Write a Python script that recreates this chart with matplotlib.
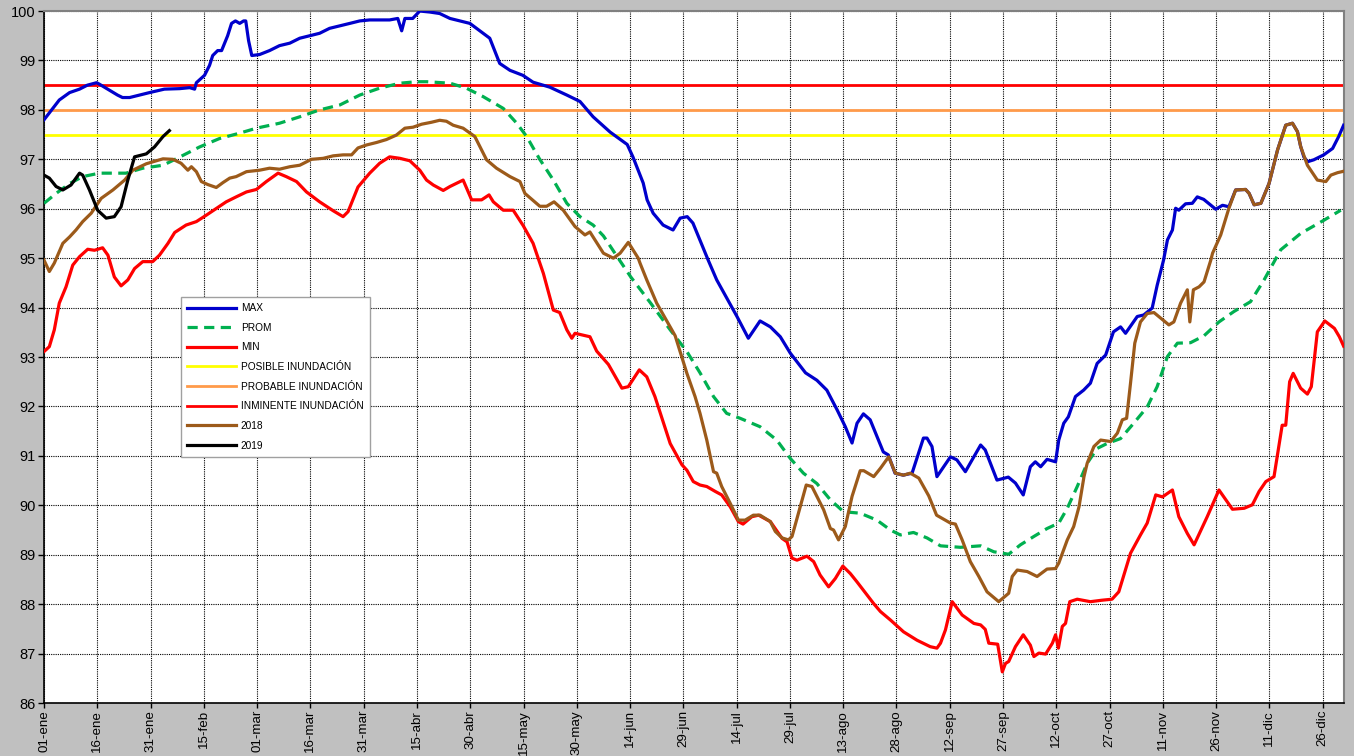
import matplotlib
matplotlib.use("Agg")
import matplotlib.pyplot as plt

plt.rcParams['font.family'] = ['Liberation Sans', 'DejaVu Sans']

# dias desde el 01-ene y nivel (m)
max_dias = [0, 4.3, 7.2, 10, 12.2, 14.8, 15.6, 18.4, 20.7, 22.1, 24.1, 26.9, 29.7, 33.9, 38.2, 41, 42.4, 42.9,
            45.2, 46.6, 47.5, 48.9, 50, 51.7, 52.8, 53.9, 55.1, 56.2, 56.8, 57.6, 58.5, 60.7, 63.5, 66.3,
            69.2, 72, 74.8, 77.6, 80.4, 83.3, 86.1, 88.9, 91.7, 97.3, 99.6, 100.7, 101.6, 103.8, 105.8,
            108.6, 111.4, 114.3, 117.1, 119.9, 122.7, 125.5, 128.3, 131.2, 134.8, 137.7, 142.4, 147.2,
            150.9, 154.6, 159.4, 164.2, 165.8, 168.7, 169.8, 171.5, 174.3, 177.1, 179.1, 181.1, 182.7,
            187, 189.4, 195.1, 198.3, 201.6, 204.5, 207.3, 210.1, 214.4, 217.6, 220.4, 223.3, 225.6,
            227.5, 228.9, 230.7, 232.6, 236.3, 237.7, 239.6, 241.9, 244.4, 247.6, 248.6, 250, 251.4,
            255.2, 257, 259.4, 263.7, 265, 268.3, 271.5, 273.5, 275.7, 277.7, 279.1, 280.6, 282.4,
            284.8, 285.7, 287.1, 288.4, 290.4, 292.7, 294.6, 296.5, 298.9, 301.1, 303.1, 304.5, 307.8,
            309.6, 312, 313.4, 315.2, 316.3, 317.7, 318.6, 319.5, 321.4, 323.3, 324.7, 326.5, 329.9,
            331.8, 333.6, 335.5, 338.3, 339.3, 340.7, 342.6, 344.9, 347.3, 349.6, 351.5, 352.9, 353.8,
            354.7, 355.7, 357.5, 360.3, 362.8, 364.5, 365.9]
max_vals = [97.8, 98.2, 98.35, 98.42, 98.5, 98.55, 98.52, 98.4, 98.3, 98.25, 98.25, 98.3, 98.35, 98.42, 98.43,
            98.45, 98.42, 98.55, 98.7, 98.9, 99.1, 99.2, 99.2, 99.5, 99.75, 99.8, 99.75, 99.8, 99.8, 99.4,
            99.1, 99.12, 99.2, 99.3, 99.35, 99.45, 99.5, 99.55, 99.65, 99.7, 99.75, 99.8, 99.82, 99.82,
            99.85, 99.6, 99.85, 99.85, 100.0, 99.98, 99.95, 99.85, 99.8, 99.75, 99.6, 99.45, 98.94, 98.8,
            98.7, 98.56, 98.46, 98.3, 98.17, 97.86, 97.55, 97.3, 97.05, 96.52, 96.18, 95.91, 95.67, 95.57,
            95.81, 95.84, 95.71, 94.96, 94.56, 93.82, 93.38, 93.73, 93.61, 93.41, 93.08, 92.68, 92.53,
            92.33, 91.93, 91.59, 91.26, 91.66, 91.85, 91.73, 91.08, 91.02, 90.65, 90.61, 90.65, 91.36,
            91.36, 91.19, 90.58, 90.98, 90.92, 90.68, 91.22, 91.12, 90.51, 90.57, 90.45, 90.21, 90.78,
            90.88, 90.78, 90.93, 90.88, 91.32, 91.66, 91.79, 92.2, 92.33, 92.47, 92.87, 93.04, 93.51,
            93.61, 93.48, 93.82, 93.85, 93.99, 94.45, 94.96, 95.37, 95.57, 96.01, 95.97, 96.1, 96.11,
            96.24, 96.19, 95.99, 96.07, 96.04, 96.38, 96.39, 96.31, 96.08, 96.11, 96.51, 97.19, 97.69,
            97.73, 97.56, 97.26, 97.05, 96.95, 96.99, 97.09, 97.22, 97.46, 97.69]

prom_dias = [0, 3.4, 7.2, 10.9, 15.6, 23.1, 27.8, 33.5, 37.2, 43.8, 49.4, 55.1, 59.8, 66.3, 72, 77.6, 83.3,
             88.9, 94.5, 100.2, 104.9, 107.7, 114.3, 118.9, 123.6, 129.3, 133.1, 135.9, 139.4, 143.4,
             147.2, 150.9, 154.6, 157.5, 161.2, 165.2, 170.8, 176.3, 181, 184.7, 188.5, 192.2, 196,
             201.6, 206.3, 210.1, 213.8, 217.6, 221.4, 225.1, 229.8, 234.5, 238.3, 241.1, 244.8, 248.6,
             252.4, 258, 263.7, 267.4, 271.6, 274.9, 278.7, 282.4, 285.7, 288.1, 290.9, 293.7, 296.5,
             299.3, 303.1, 306.8, 310.6, 313.4, 316.3, 319.1, 322.8, 326.6, 330.8, 335, 339.7, 343.5,
             348.2, 353.8, 360.4, 365.1]
prom_vals = [96.11, 96.31, 96.51, 96.65, 96.72, 96.72, 96.82, 96.88, 97.01, 97.25, 97.42, 97.53, 97.63,
             97.73, 97.86, 98.0, 98.1, 98.3, 98.44, 98.54, 98.57, 98.57, 98.54, 98.44, 98.27, 98.03,
             97.73, 97.46, 97.02, 96.58, 96.11, 95.84, 95.67, 95.45, 95.05, 94.62, 94.09, 93.55, 93.11,
             92.68, 92.2, 91.86, 91.76, 91.59, 91.32, 90.95, 90.65, 90.44, 90.11, 89.87, 89.84, 89.7,
             89.5, 89.4, 89.45, 89.34, 89.18, 89.15, 89.18, 89.06, 89.01, 89.2, 89.37, 89.53, 89.64,
             89.94, 90.38, 90.85, 91.15, 91.25, 91.35, 91.66, 91.99, 92.4, 93.01, 93.28, 93.29, 93.43,
             93.71, 93.92, 94.12, 94.56, 95.17, 95.5, 95.77, 95.97]

min_dias = [0, 1.5, 2.9, 4.3, 6.2, 8.1, 10, 12.3, 14.2, 16.5, 18, 19.8, 21.7, 23.6, 25.5, 27.8, 30.6, 32.5,
            34.9, 36.8, 40, 42.9, 45.7, 49, 51.3, 54.1, 57, 59.8, 62.6, 65.9, 68.2, 71.1, 73.9, 77.6,
            81.4, 84.2, 85.6, 88.4, 91.7, 94.5, 97.3, 100.2, 103, 105.8, 107.7, 109.6, 112.4, 114.3,
            118, 120.4, 123.2, 125.3, 126.5, 129.3, 132.1, 134.9, 137.7, 140.6, 143.4, 145.2, 147.2,
            148.6, 149.5, 153.7, 155.6, 158.9, 162.7, 164.5, 167.6, 169.7, 172, 176.3, 179.6, 181,
            182.8, 184.7, 186.6, 189, 190.8, 193.2, 195.5, 196.8, 199.3, 201.2, 204.5, 207.8, 209.2,
            210.6, 212, 214.8, 216.7, 218.5, 220.9, 222.8, 224.9, 227, 228.9, 233.6, 235.5, 238.3, 242,
            245.8, 249.5, 251.4, 252.4, 253.8, 255.7, 258.5, 261.8, 263.7, 265, 266, 268.5, 269.8,
            270.7, 271.6, 273.5, 275.7, 277.7, 278.7, 280.1, 282, 283.9, 284.8, 285.6, 286.7, 287.6,
            288.8, 290.9, 294.6, 297.9, 300.7, 302.6, 305.9, 308.7, 310.6, 313, 314.9, 317.7, 319.5,
            321.9, 323.8, 327.5, 330.8, 334.6, 337.9, 340.2, 342.1, 344, 346.3, 348.6, 349.6, 350.7,
            351.7, 353.8, 355.7, 356.8, 358.5, 360.6, 363.3, 364.7, 365.9]
min_vals = [93.11, 93.21, 93.55, 94.09, 94.42, 94.86, 95.03, 95.18, 95.16, 95.21, 95.06, 94.62, 94.44,
            94.56, 94.79, 94.93, 94.93, 95.06, 95.3, 95.52, 95.67, 95.74, 95.87, 96.03, 96.14, 96.24,
            96.34, 96.39, 96.55, 96.72, 96.65, 96.55, 96.34, 96.14, 95.96, 95.84, 95.94, 96.44, 96.72,
            96.92, 97.05, 97.02, 96.97, 96.78, 96.58, 96.48, 96.37, 96.45, 96.58, 96.18, 96.18, 96.28,
            96.14, 95.97, 95.97, 95.66, 95.3, 94.69, 93.95, 93.9, 93.55, 93.38, 93.48, 93.41, 93.12,
            92.85, 92.37, 92.4, 92.74, 92.6, 92.2, 91.25, 90.82, 90.71, 90.48, 90.41, 90.38, 90.28,
            90.21, 89.97, 89.67, 89.62, 89.77, 89.8, 89.67, 89.33, 89.26, 88.93, 88.89, 88.97, 88.86,
            88.59, 88.35, 88.52, 88.77, 88.62, 88.45, 88.01, 87.85, 87.68, 87.44, 87.27, 87.14, 87.11,
            87.21, 87.48, 88.05, 87.78, 87.61, 87.58, 87.49, 87.21, 87.19, 86.63, 86.8, 86.84, 87.14,
            87.38, 87.17, 86.94, 87.01, 86.99, 87.21, 87.38, 87.11, 87.55, 87.61, 88.05, 88.1, 88.05,
            88.08, 88.1, 88.25, 89.03, 89.4, 89.64, 90.21, 90.17, 90.31, 89.77, 89.43, 89.2, 89.77,
            90.31, 89.92, 89.94, 90.01, 90.28, 90.48, 90.58, 91.62, 91.62, 92.5, 92.67, 92.37, 92.25,
            92.4, 93.51, 93.73, 93.58, 93.41, 93.22]

a2018_dias = [0, 1.5, 2.9, 5.3, 7.2, 9, 10.9, 13.3, 16.1, 19.4, 22.7, 25, 28.8, 33.5, 36.3, 38.6, 40.5,
              41.5, 42.9, 44.3, 46.1, 48.5, 50.4, 52.3, 54.1, 57, 60.7, 63.5, 66.3, 69.2, 72, 75.3,
              78.6, 81.4, 84.2, 86.6, 88.4, 90.8, 93.6, 96.4, 99.2, 101.6, 103.9, 106.3, 109.1, 111.4,
              113.3, 115.2, 118, 121.3, 124.6, 127.4, 131.2, 134, 135.4, 139.6, 141.5, 143.6, 146.2,
              149.5, 152.3, 153.7, 157.5, 160.3, 162.2, 164.5, 167.3, 167.8, 169.7, 172.5, 177.7, 181,
              183.3, 184.7, 186.6, 188.5, 189.4, 190.8, 193.2, 195.5, 197.4, 199.7, 201.6, 204.5,
              205.9, 207.8, 209.6, 210.6, 212.4, 214.6, 216.2, 219.5, 221.4, 222.3, 223.7, 225.6,
              227.5, 229.8, 230.8, 233.6, 235.5, 237.8, 239.7, 242, 243.9, 246.3, 249.1, 251.3, 255.2,
              256.6, 258.5, 260.8, 263.2, 265.5, 268.8, 271.6, 272.6, 274, 276.8, 279.6, 282.4, 284.8,
              285.7, 288.1, 289.9, 291.4, 292.8, 293.7, 295.6, 297.5, 300.3, 302.2, 303.6, 304.8,
              305.9, 307.1, 308.7, 310.6, 312.5, 316.7, 318.1, 320, 321.9, 322.6, 323.6, 325.2, 326.6,
              328.5, 329, 331.3, 333.6, 335.5, 338.3, 339.3, 340.7, 342.6, 344.9, 347.3, 349.6, 351.5,
              352.9, 353.8, 355.7, 358.5, 360.9, 362.3, 364.2, 366]
a2018_vals = [94.96, 94.73, 94.9, 95.3, 95.43, 95.57, 95.74, 95.91, 96.21, 96.38, 96.58, 96.78, 96.91,
              97.01, 97.0, 96.92, 96.78, 96.85, 96.75, 96.55, 96.49, 96.43, 96.53, 96.62, 96.65, 96.75,
              96.78, 96.82, 96.8, 96.85, 96.88, 97.0, 97.02, 97.07, 97.09, 97.09, 97.23, 97.29, 97.34,
              97.4, 97.49, 97.63, 97.65, 97.71, 97.75, 97.79, 97.77, 97.69, 97.63, 97.46, 96.99, 96.82,
              96.65, 96.55, 96.31, 96.05, 96.05, 96.14, 95.97, 95.64, 95.47, 95.53, 95.1, 95.0, 95.1,
              95.32, 95.0, 94.9, 94.56, 94.09, 93.43, 92.67, 92.2, 91.86, 91.32, 90.68, 90.65, 90.38,
              90.04, 89.7, 89.7, 89.8, 89.8, 89.67, 89.47, 89.34, 89.3, 89.37, 89.84, 90.41, 90.38,
              89.91, 89.53, 89.5, 89.3, 89.57, 90.18, 90.7, 90.7, 90.58, 90.75, 90.98, 90.65, 90.61,
              90.65, 90.55, 90.19, 89.8, 89.64, 89.62, 89.3, 88.86, 88.56, 88.25, 88.05, 88.22, 88.56,
              88.69, 88.66, 88.56, 88.71, 88.72, 88.83, 89.3, 89.57, 89.97, 90.58, 90.85, 91.19, 91.32,
              91.29, 91.46, 91.73, 91.76, 92.47, 93.28, 93.71, 93.88, 93.9, 93.65, 93.71, 94.09, 94.36,
              93.71, 94.36, 94.42, 94.52, 94.96, 95.1, 95.47, 96.01, 96.38, 96.39, 96.31, 96.08, 96.11,
              96.51, 97.19, 97.69, 97.73, 97.56, 97.26, 96.88, 96.58, 96.55, 96.68, 96.73, 96.76]

a2019_dias = [0, 1.5, 3.4, 5.3, 7.6, 10, 10.9, 12.8, 15.1, 17.5, 19.8, 21.7, 23.6, 25.5, 28.8, 31.1,
              33.5, 35.3]
a2019_vals = [96.68, 96.62, 96.45, 96.38, 96.48, 96.72, 96.68, 96.38, 95.97, 95.81, 95.84, 96.04, 96.58,
              97.05, 97.11, 97.25, 97.46, 97.58]

posible = 97.5
probable = 98.0
inminente = 98.5

tick_dias = list(range(0, 361, 15))
tick_labels = ["01-ene", "16-ene", "31-ene", "15-feb", "01-mar", "16-mar", "31-mar", "15-abr",
               "30-abr", "15-may", "30-may", "14-jun", "29-jun", "14-jul", "29-jul", "13-ago",
               "28-ago", "12-sep", "27-sep", "12-oct", "27-oct", "11-nov", "26-nov", "11-dic", "26-dic"]

fig = plt.figure(figsize=(13.54, 7.56), dpi=100, facecolor="#c0c0c0")
ax = fig.add_axes([0.0325, 0.0701, 0.9601, 0.9153])
ax.set_facecolor("white")

lw = 2.3
ax.plot(max_dias, max_vals, color="#0000cc", lw=lw, label="MAX", zorder=3)
ax.plot(prom_dias, prom_vals, color="#00b050", lw=lw, ls=(0, (3.2, 2.0)), label="PROM", zorder=3)
ax.plot(min_dias, min_vals, color="#ff0000", lw=lw, label="MIN", zorder=3)
ax.axhline(posible, color="#ffff00", lw=2.0, label="POSIBLE INUNDACIÓN", zorder=2)
ax.axhline(probable, color="#ff9a4a", lw=2.0, label="PROBABLE INUNDACIÓN", zorder=2)
ax.axhline(inminente, color="#ff0000", lw=2.0, label="INMINENTE INUNDACIÓN", zorder=2)
ax.plot(a2018_dias, a2018_vals, color="#9c5a1a", lw=lw, label="2018", zorder=4)
ax.plot(a2019_dias, a2019_vals, color="black", lw=lw, label="2019", zorder=5)

ax.set_xlim(0, 366)
ax.set_ylim(86, 100)
ax.set_yticks(range(86, 101))
ax.set_xticks(tick_dias)
ax.set_xticklabels(tick_labels, rotation=90, fontsize=9.6)
ax.tick_params(axis="y", labelsize=10.5, length=4, width=1, pad=2)
ax.tick_params(axis="x", length=3.5, width=1, pad=1.5)
ax.grid(True, color="black", ls=(0, (1, 1)), lw=0.8, zorder=1)

for s in ["top", "right"]:
    ax.spines[s].set_color("#808080")
    ax.spines[s].set_linewidth(1.5)
for s in ["left", "bottom"]:
    ax.spines[s].set_color("black")
    ax.spines[s].set_linewidth(1.2)

leg = ax.legend(loc="upper left", bbox_to_anchor=(0.1015, 0.594), fontsize=7.3, frameon=True,
                fancybox=False, edgecolor="#a0a0a0", framealpha=1, handlelength=4.8,
                labelspacing=0.95, borderpad=0.6, handletextpad=0.5)
leg.get_frame().set_linewidth(1.0)
leg.set_zorder(10)

fig.savefig("out.png", dpi=100, facecolor=fig.get_facecolor())
